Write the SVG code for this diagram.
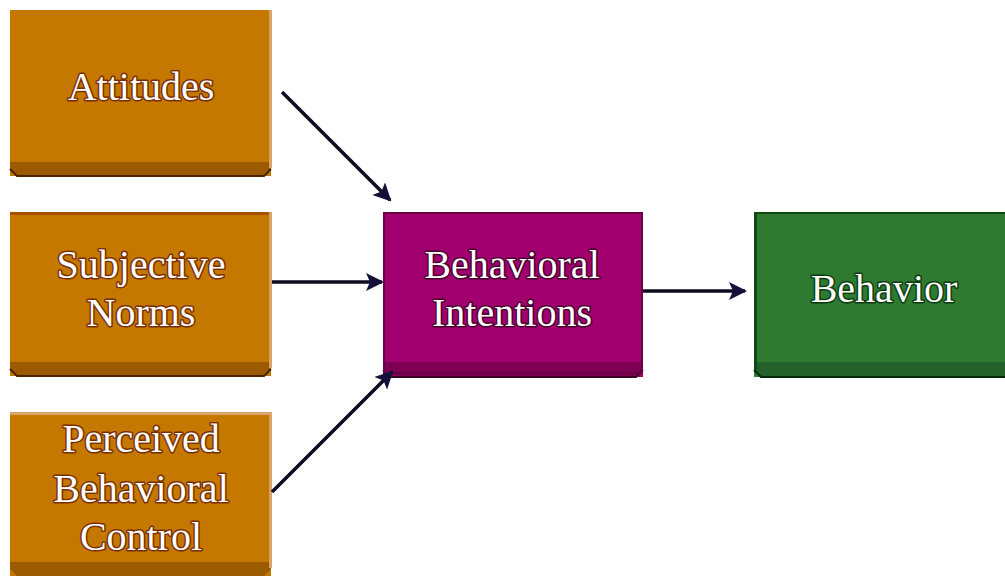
<svg xmlns="http://www.w3.org/2000/svg" width="1005" height="576" viewBox="0 0 1005 576">
  <defs>
    <marker id="arrow" viewBox="0 0 18 18" refX="16" refY="9" markerWidth="18" markerHeight="18" markerUnits="userSpaceOnUse" orient="auto">
      <path d="M0,0 L18,9 L0,18 L4,9 Z" fill="#14103a"/>
    </marker>
  </defs>
  <style>
    .label { font-family: "Liberation Serif", "Times New Roman", serif; font-size: 40px; fill: #ffffff; text-anchor: middle; stroke-width: 3px; paint-order: stroke; stroke-linejoin: round; }
    .o .face { fill: #c47800; }
    .o .bevel { fill: #9c5a00; }
    .o .edge { fill: #d9a46a; }
    .o .label { stroke: #7a2e00; }
    .p .face { fill: #a2006e; }
    .p .bevel { fill: #7e0054; }
    .p .label { stroke: #4a0030; }
    .g .face { fill: #2e7a30; }
    .g .bevel { fill: #24602a; }
    .g .edge { fill: #0e4a12; }
    .g .label { stroke: #0c3a10; }
    .rim { fill: none; stroke-width: 2; }
    .connector { stroke: #0c0c1e; stroke-width: 3.5; fill: none; marker-end: url(#arrow); }
  </style>
  <rect width="1005" height="576" fill="#ffffff"/>

  <!-- orange input boxes, each with a darker bevel along the bottom -->
  <g id="attitudes" class="o">
    <rect class="face" x="10" y="10" width="261" height="166"/>
    <polygon class="bevel" points="10,162 271,162 271,169 264,176 17,176 10,169"/>
    <polyline points="10,169 17,176 264,176 271,169" fill="none" stroke="#4a2400" stroke-width="2"/>
    <rect class="edge" x="269" y="10" width="3" height="158"/>
    <text class="label" x="141" y="100">Attitudes</text>
  </g>

  <g id="subjective-norms" class="o">
    <rect class="face" x="10" y="212" width="261" height="164"/>
    <polygon class="bevel" points="10,362 271,362 271,369 264,376 17,376 10,369"/>
    <polyline points="10,369 17,376 264,376 271,369" fill="none" stroke="#4a2400" stroke-width="2"/>
    <rect x="10" y="212" width="261" height="3" fill="#a85000"/>
    <rect class="edge" x="269" y="212" width="3" height="156"/>
    <text class="label" x="141" y="278">Subjective</text>
    <text class="label" x="141" y="326">Norms</text>
  </g>

  <g id="perceived-behavioral-control" class="o">
    <rect class="face" x="10" y="412" width="261" height="164"/>
    <polygon class="bevel" points="10,562 271,562 271,569 264,576 17,576 10,569"/>
    <rect x="10" y="412" width="261" height="3" fill="#d9a46a"/>
    <rect class="edge" x="269" y="412" width="3" height="156"/>
    <text class="label" x="141" y="452">Perceived</text>
    <text class="label" x="141" y="502">Behavioral</text>
    <text class="label" x="141" y="550">Control</text>
  </g>

  <!-- central purple box -->
  <g id="behavioral-intentions" class="p">
    <rect class="face" x="383" y="212" width="260" height="165"/>
    <polygon class="bevel" points="383,362 643,362 643,370 636,377 390,377 383,370"/>
    <polyline points="383,370 390,377 636,377 643,370" fill="none" stroke="#3a0026" stroke-width="2"/>
    <rect class="rim" x="384" y="213" width="258" height="160" stroke="#6a0044"/>
    <text class="label" x="512" y="278">Behavioral</text>
    <text class="label" x="512" y="326">Intentions</text>
  </g>

  <!-- green outcome box, running off the right edge -->
  <g id="behavior" class="g">
    <rect class="face" x="754" y="212" width="255" height="165"/>
    <polygon class="bevel" points="754,362 1009,362 1009,377 761,377 754,370"/>
    <polyline points="754,370 761,377 1009,377" fill="none" stroke="#062a08" stroke-width="2"/>
    <rect class="edge" x="754" y="212" width="3" height="158"/>
    <rect class="edge" x="754" y="212" width="255" height="2"/>
    <text class="label" x="884" y="302">Behavior</text>
  </g>

  <g id="connectors">
    <line class="connector" x1="282" y1="92" x2="390" y2="200"/>
    <line class="connector" x1="272" y1="282" x2="382" y2="282"/>
    <line class="connector" x1="272" y1="492" x2="392" y2="372"/>
    <line class="connector" x1="643" y1="291" x2="745" y2="291"/>
  </g>
</svg>
